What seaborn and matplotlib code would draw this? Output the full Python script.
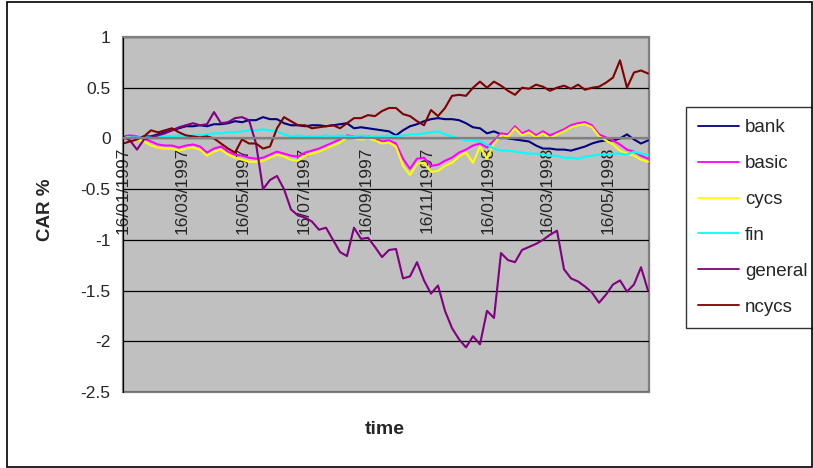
import pandas as pd
import numpy as np
import matplotlib
matplotlib.use('Agg')
import matplotlib.pyplot as plt
import matplotlib.dates as mdates
from matplotlib.patches import Rectangle
import seaborn as sns

# Datos (CAR % semanal, desde 16/01/1997)
fechas = pd.date_range('1997-01-16', periods=76, freq='7D')

bank = [0.00, 0.01, 0.00, 0.02, 0.02, 0.04, 0.06, 0.08, 0.10, 0.12,
        0.12, 0.13, 0.12, 0.14, 0.14, 0.15, 0.17, 0.16, 0.18, 0.18,
        0.21, 0.19, 0.19, 0.15, 0.13, 0.13, 0.12, 0.13, 0.13, 0.12,
        0.13, 0.14, 0.15, 0.10, 0.11, 0.10, 0.09, 0.08, 0.07, 0.03,
        0.08, 0.12, 0.14, 0.17, 0.19, 0.20, 0.19, 0.19, 0.18, 0.15,
        0.11, 0.10, 0.05, 0.07, 0.04, 0.00, -0.01, -0.02, -0.03, -0.07,
        -0.10, -0.10, -0.11, -0.11, -0.12, -0.10, -0.08, -0.05, -0.03, -0.02,
        -0.02, 0.00, 0.04, -0.01, -0.05, -0.02]

basic = [0.02, 0.03, 0.02, 0.00, -0.03, -0.06, -0.07, -0.07, -0.09, -0.07,
         -0.06, -0.08, -0.14, -0.10, -0.08, -0.13, -0.16, -0.17, -0.19, -0.20,
         -0.19, -0.16, -0.13, -0.15, -0.17, -0.18, -0.14, -0.12, -0.10, -0.07,
         -0.04, -0.01, 0.03, 0.02, 0.01, 0.02, 0.00, -0.03, -0.02, -0.05,
         -0.20, -0.30, -0.20, -0.19, -0.27, -0.26, -0.22, -0.19, -0.14, -0.11,
         -0.07, -0.05, -0.09, -0.02, 0.05, 0.04, 0.12, 0.05, 0.08, 0.03,
         0.07, 0.03, 0.06, 0.09, 0.13, 0.15, 0.16, 0.13, 0.04, 0.01,
         -0.02, -0.06, -0.11, -0.13, -0.17, -0.20]

cycs = [0.01, 0.01, -0.01, -0.03, -0.07, -0.09, -0.10, -0.10, -0.12, -0.10,
        -0.09, -0.11, -0.17, -0.13, -0.11, -0.16, -0.19, -0.21, -0.23, -0.23,
        -0.22, -0.19, -0.16, -0.18, -0.21, -0.22, -0.17, -0.15, -0.13, -0.10,
        -0.07, -0.04, 0.01, 0.00, -0.01, 0.00, -0.02, -0.05, -0.04, -0.08,
        -0.27, -0.36, -0.25, -0.24, -0.33, -0.32, -0.27, -0.24, -0.18, -0.14,
        -0.24, -0.08, -0.20, -0.05, 0.03, 0.02, 0.10, 0.03, 0.06, 0.01,
        0.05, 0.00, 0.04, 0.07, 0.11, 0.13, 0.14, 0.11, 0.02, -0.02,
        -0.06, -0.12, -0.15, -0.17, -0.21, -0.23]

fin = [0.01, 0.01, 0.01, 0.01, 0.01, 0.01, 0.02, 0.02, 0.03, 0.02,
       0.03, 0.03, 0.04, 0.05, 0.05, 0.06, 0.06, 0.07, 0.08, 0.08,
       0.09, 0.08, 0.07, 0.04, 0.02, 0.03, 0.02, 0.02, 0.02, 0.03,
       0.02, 0.03, 0.02, 0.02, 0.03, 0.02, 0.02, 0.02, 0.03, 0.02,
       0.03, 0.04, 0.04, 0.05, 0.06, 0.07, 0.04, 0.02, 0.00, -0.02,
       -0.02, -0.03, -0.06, -0.10, -0.12, -0.12, -0.13, -0.14, -0.15, -0.15,
       -0.16, -0.17, -0.17, -0.19, -0.19, -0.20, -0.18, -0.17, -0.16, -0.16,
       -0.15, -0.15, -0.16, -0.13, -0.15, -0.16]

general = [0.02, -0.02, -0.11, -0.01, 0.01, 0.03, 0.05, 0.08, 0.11, 0.13,
           0.15, 0.13, 0.14, 0.26, 0.15, 0.16, 0.20, 0.21, 0.18, -0.05,
           -0.50, -0.41, -0.37, -0.50, -0.70, -0.76, -0.78, -0.82, -0.90, -0.88,
           -1.00, -1.12, -1.16, -0.88, -0.99, -0.98, -1.07, -1.17, -1.10, -1.09,
           -1.38, -1.36, -1.22, -1.40, -1.53, -1.45, -1.70, -1.87, -1.98, -2.06,
           -1.95, -2.03, -1.70, -1.77, -1.13, -1.20, -1.22, -1.10, -1.07, -1.04,
           -1.00, -0.95, -0.91, -1.29, -1.38, -1.41, -1.46, -1.52, -1.62, -1.54,
           -1.44, -1.40, -1.51, -1.44, -1.27, -1.50]

ncycs = [-0.05, -0.03, -0.01, 0.02, 0.08, 0.06, 0.08, 0.10, 0.06, 0.03,
         0.02, 0.01, 0.02, 0.00, -0.05, -0.10, -0.14, -0.01, -0.05, -0.05,
         -0.10, -0.08, 0.10, 0.21, 0.17, 0.13, 0.13, 0.10, 0.11, 0.12,
         0.13, 0.10, 0.15, 0.20, 0.20, 0.23, 0.22, 0.27, 0.30, 0.30,
         0.24, 0.22, 0.17, 0.13, 0.28, 0.22, 0.30, 0.42, 0.43, 0.42,
         0.50, 0.56, 0.50, 0.56, 0.52, 0.47, 0.43, 0.50, 0.49, 0.53,
         0.51, 0.47, 0.50, 0.52, 0.49, 0.53, 0.48, 0.50, 0.51, 0.55,
         0.60, 0.77, 0.50, 0.65, 0.67, 0.64]

series = ['bank', 'basic', 'cycs', 'fin', 'general', 'ncycs']
colores = ['#000080', '#FF00FF', '#FFFF00', '#00FFFF', '#800080', '#800000']

# formato largo para seaborn
df = pd.DataFrame({'fecha': fechas, 'bank': bank, 'basic': basic, 'cycs': cycs,
                   'fin': fin, 'general': general, 'ncycs': ncycs})
df_largo = df.melt(id_vars='fecha', var_name='serie', value_name='car')

sns.set_style('white')
plt.rcParams['font.family'] = ['Liberation Sans', 'DejaVu Sans']

fig = plt.figure(figsize=(8.13, 4.68), dpi=100)
ax = fig.add_axes([123 / 813, 1 - 392 / 468, 526 / 813, 355 / 468])
ax.set_facecolor('#C0C0C0')

sns.lineplot(data=df_largo, x='fecha', y='car', hue='serie', hue_order=series,
             palette=dict(zip(series, colores)), linewidth=1.5, ax=ax)

ax.set_ylim(-2.5, 1)
ax.set_yticks(np.arange(-2.5, 1.01, 0.5))
ax.set_yticklabels(['-2.5', '-2', '-1.5', '-1', '-0.5', '0', '0.5', '1'])
ax.set_xlim(pd.Timestamp('1997-01-16'), pd.Timestamp('1998-06-26'))
ax.xaxis.set_major_locator(mdates.MonthLocator(bymonth=[1, 3, 5, 7, 9, 11], bymonthday=16))
ax.xaxis.set_major_formatter(mdates.DateFormatter('%d/%m/%Y'))

ax.yaxis.grid(True, color='black', linewidth=0.9)
ax.set_axisbelow(True)

# eje x cruzando en 0 como en Excel
ax.spines['bottom'].set_position(('data', 0))
ax.spines['bottom'].set_color('#808080')
ax.spines['bottom'].set_linewidth(1.6)
ax.spines['left'].set_color('black')
ax.spines['top'].set_color('#808080')
ax.spines['right'].set_color('#808080')
ax.add_patch(Rectangle((0, 0), 1, 1, transform=ax.transAxes, fill=False,
                       edgecolor='#808080', linewidth=1.6, clip_on=False, zorder=0.5))

ax.tick_params(axis='x', direction='out', length=5, width=1, color='#808080',
               labelsize=12.5, rotation=90, pad=1)
ax.tick_params(axis='y', direction='out', length=5, width=1, color='black',
               labelsize=12.5, pad=4)
for t in ax.get_xticklabels():
    t.set_verticalalignment('top')

ax.set_xlabel('')
ax.set_ylabel('')
fig.text(45 / 813, 1 - 210 / 468, 'CAR %', rotation=90, ha='center', va='center',
         fontsize=13.5, fontweight='bold')
fig.text(385 / 813, 1 - 430 / 468, 'time', ha='center', va='center',
         fontsize=14, fontweight='bold')

handles, labels = ax.get_legend_handles_labels()
for h in handles:
    h.set_linewidth(1.3)
ax.legend(handles, labels, loc='upper left', bbox_to_anchor=(686 / 813, 1 - 107 / 468),
          bbox_transform=fig.transFigure, frameon=True, fancybox=False,
          edgecolor='black', fontsize=13.5, labelspacing=1.0, handlelength=2.2,
          handletextpad=0.3, borderpad=0.65, borderaxespad=0)
ax.get_legend().get_frame().set_linewidth(1)

# borde exterior del grafico
fig.patches.append(Rectangle((7 / 813, 1 / 468), 805 / 813, 465 / 468,
                             transform=fig.transFigure, fill=False,
                             edgecolor='black', linewidth=1.2))

fig.savefig('out.png', dpi=100)
